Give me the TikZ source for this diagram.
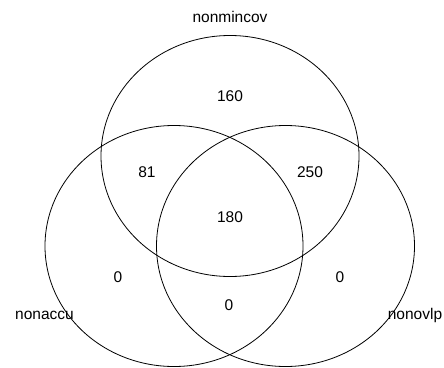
\documentclass[tikz,border=0pt]{standalone}
\usepackage{fontspec}
\setmainfont{Liberation Sans}

\tikzset{
	setline/.style={line width=0.8pt},
	setlabel/.style={font=\fontsize{15.5}{18}\selectfont}
}

\begin{document}
\begin{tikzpicture}[x=1pt,y=-1pt]
			\useasboundingbox (0,0) rectangle (444,367);
			\draw[setline] (230,156) ellipse [x radius=129, y radius=120.5];
			\draw[setline] (174,246) ellipse [x radius=129, y radius=120.5];
			\draw[setline] (285.5,246) ellipse [x radius=129, y radius=120.5];
			\node[setlabel] (mincov) at (230,17){nonmincov};
			\node[setlabel] (accu) at (44.5,315){nonaccu};
			\node[setlabel] (ovlp) at (415,315){nonovlp};
			\node[setlabel] (n160) at (230,96){160};
			\node[setlabel] (n81) at (147,172){81};
			\node[setlabel] (n250) at (310,172){250};
			\node[setlabel] (n180) at (230,217){180};
			\node[setlabel] (n0a) at (118,277){0};
			\node[setlabel] (n0b) at (340,277){0};
			\node[setlabel] (n0c) at (229,305){0};
		\end{tikzpicture}
\end{document}
